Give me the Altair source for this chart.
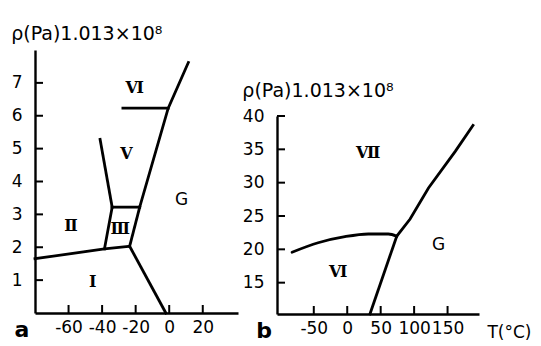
import altair as alt
import pandas as pd

FONT = "DejaVu Sans"
NUM_FONT = "DejaVu Serif"
TITLE = "ρ(Pa)1.013×10⁸"

# ---------------- Panel a : T (°C) vs p (×1.013e8 Pa) ----------------
a_xticks = [-60, -40, -20, 0, 20]
a_yticks = [1, 2, 3, 4, 5, 6, 7]

a_I_T = [-80, -38.6, -23.6]          # I / II and I / III boundary
a_I_P = [1.65, 1.95, 2.03]
a_II_III_T = [-38.6, -34.0]
a_II_III_P = [1.95, 3.22]
a_III_V_T = [-34.0, -17.6]
a_III_V_P = [3.22, 3.22]
a_III_L_T = [-23.6, -17.6]
a_III_L_P = [2.03, 3.22]
a_II_V_T = [-34.0, -41.2]
a_II_V_P = [3.22, 5.28]
a_melt_T = [-17.6, -0.6, 11.4]       # V / L and VI / L
a_melt_P = [3.22, 6.23, 7.62]
a_V_VI_T = [-27.6, -0.6]
a_V_VI_P = [6.23, 6.23]
a_I_L_T = [-23.6, -2.0]
a_I_L_P = [2.03, 0.0]

a_lab_text = ["Ⅵ", "Ⅴ", "Ⅱ", "Ⅲ", "Ⅰ"]
a_lab_T = [-20.6, -25.5, -58.5, -29.2, -45.6]
a_lab_P = [6.85, 4.85, 2.64, 2.54, 0.95]
a_G_T = [7.4]
a_G_P = [3.45]

# ---------------- Panel b ----------------
b_xticks = [-50, 0, 50, 100, 150]
b_yticks = [15, 20, 25, 30, 35, 40]

b_VI_VII_T = [-82.5, -43.5, -3.5, 31.5, 61.5, 74.0]
b_VI_VII_P = [19.57, 20.99, 21.9, 22.3, 22.3, 21.97]
b_VI_L_T = [74.0, 34.0]
b_VI_L_P = [21.97, 10.3]
b_VII_L_T = [74.0, 94.0, 121.5, 161.5, 188.0]
b_VII_L_P = [21.97, 24.55, 29.2, 34.7, 38.6]

b_lab_text = ["Ⅶ", "Ⅵ"]
b_lab_T = [31.5, -13.5]
b_lab_P = [34.5, 16.6]
b_G_T = [136.5]
b_G_P = [20.6]


def frame(series):
    rows = []
    for name, (ts, ps) in series.items():
        for i, (t, p) in enumerate(zip(ts, ps)):
            rows.append({"seg": name, "i": i, "T": t, "P": p})
    return pd.DataFrame(rows)


a_df = frame({
    "I": (a_I_T, a_I_P), "II_III": (a_II_III_T, a_II_III_P),
    "III_V": (a_III_V_T, a_III_V_P), "III_L": (a_III_L_T, a_III_L_P),
    "II_V": (a_II_V_T, a_II_V_P), "melt": (a_melt_T, a_melt_P),
    "V_VI": (a_V_VI_T, a_V_VI_P), "I_L": (a_I_L_T, a_I_L_P),
})
b_curve_df = frame({"VI_VII": (b_VI_VII_T, b_VI_VII_P)})
b_df = frame({"VI_L": (b_VI_L_T, b_VI_L_P), "VII_L": (b_VII_L_T, b_VII_L_P)})

LW = 2.8
TICK_PX = 8


def axis(values, orient, title=None, **kw):
    base = dict(values=values, ticks=False, tickSize=0, grid=False,
                domainWidth=2.4, domainColor="black", labelFont=FONT,
                labelFontSize=17, labelColor="black", labelFlush=False,
                labelOverlap=False, labelExpr="'' + datum.value")
    if orient == "x":
        base.update(labelPadding=6)
    else:
        base.update(labelPadding=13)
    base.update(kw)
    if title is None:
        return alt.Axis(title=None, **base)
    return alt.Axis(title=title, **base)


def panel(line_df, curve_df, xt, yt, lab_text, lab_T, lab_P, G_T, G_P,
          xdom, ydom, W, H, letter, xaxis_title=None):
    xs = alt.Scale(domain=xdom, nice=False, zero=False)
    ys = alt.Scale(domain=ydom, nice=False, zero=False)
    if xaxis_title:
        xa = axis(xt, "x", xaxis_title, titleX=232, titleY=23, titleAlign="center",
                  titleBaseline="alphabetic", titleFont=FONT, titleFontSize=17,
                  titleFontWeight="normal", titleColor="black")
    else:
        xa = axis(xt, "x")
    ya = axis(yt, "y")

    def X(name="T"):
        return alt.X(f"{name}:Q", scale=xs, axis=xa)

    def Y(name="P"):
        return alt.Y(f"{name}:Q", scale=ys, axis=ya)

    # tick length of 8 px expressed in data units of each scale
    dy = (ydom[1] - ydom[0]) * TICK_PX / H
    dx = (xdom[1] - xdom[0]) * TICK_PX / W
    xt_df = pd.DataFrame({"T": xt, "P": [ydom[0]] * len(xt),
                          "P2": [ydom[0] + dy] * len(xt)})
    yt_df = pd.DataFrame({"P": yt, "T": [xdom[0]] * len(yt),
                          "T2": [xdom[0] + dx] * len(yt)})

    layers = [
        alt.Chart(line_df).mark_line(color="black", strokeWidth=LW,
                                     strokeJoin="miter", strokeCap="square")
        .encode(x=X(), y=Y(), detail="seg:N", order="i:Q"),
    ]
    if curve_df is not None:
        layers.append(
            alt.Chart(curve_df).mark_line(color="black", strokeWidth=LW,
                                          interpolate="monotone", strokeCap="round")
            .encode(x=X(), y=Y(), detail="seg:N", order="i:Q"))
    # inward-pointing tick marks (upwards from x axis, rightwards from y axis)
    layers.append(
        alt.Chart(xt_df).mark_rule(color="black", strokeWidth=2)
        .encode(x=X(), y=Y(), y2="P2:Q"))
    layers.append(
        alt.Chart(yt_df).mark_rule(color="black", strokeWidth=2)
        .encode(y=Y(), x=X(), x2="T2:Q"))
    layers.append(
        alt.Chart(pd.DataFrame({"T": lab_T, "P": lab_P, "lab": lab_text}))
        .mark_text(font=NUM_FONT, fontSize=16, fontWeight="bold", color="black",
                   baseline="middle")
        .encode(x=X(), y=Y(), text="lab:N"))
    layers.append(
        alt.Chart(pd.DataFrame({"T": G_T, "P": G_P, "lab": ["G"] * len(G_T)}))
        .mark_text(font=FONT, fontSize=17, color="black", baseline="middle")
        .encode(x=X(), y=Y(), text="lab:N"))
    layers.append(
        alt.Chart(pd.DataFrame({"t": [letter]}))
        .mark_text(font=FONT, fontSize=22, fontWeight="bold", color="black",
                   baseline="alphabetic", align="center")
        .encode(x=alt.value(-13), y=alt.value(H + 24), text="t:N"))
    return alt.layer(*layers).properties(
        width=W, height=H,
        title=alt.TitleParams(TITLE, anchor="start", font=FONT, fontSize=19,
                              fontWeight="normal", color="black", offset=6))


chart_a = panel(a_df, None, a_xticks, a_yticks, a_lab_text, a_lab_T, a_lab_P,
                a_G_T, a_G_P, [-80, 41], [0, 8], 203, 263, "a")
chart_b = panel(b_df, b_curve_df, b_xticks, b_yticks, b_lab_text, b_lab_T, b_lab_P,
                b_G_T, b_G_P, [-105, 197], [10.3, 40], 202, 198, "b",
                xaxis_title="T(°C)")

spacer = alt.Chart(pd.DataFrame({"s": [0]})).mark_point(opacity=0).properties(
    width=1, height=32)

chart = alt.hconcat(chart_a, alt.vconcat(spacer, chart_b, spacing=0),
                    spacing=4).properties(
    padding={"left": 3, "top": 17, "right": 0, "bottom": 0},
    background="white",
).configure_view(stroke=None)

chart.save("out.html", embed_options={"renderer": "svg", "actions": False})
